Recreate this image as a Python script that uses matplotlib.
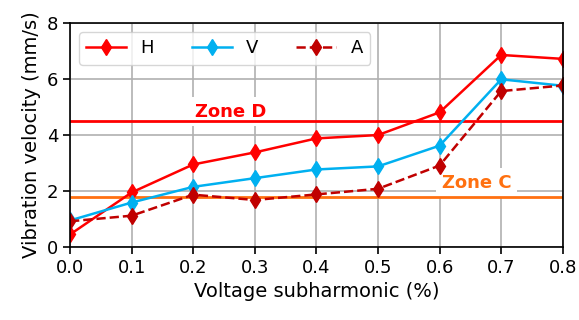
import numpy as np
import matplotlib.pyplot as plt

# data
x = [0.0, 0.1, 0.2, 0.3, 0.4, 0.5, 0.6, 0.7, 0.8]
h_vals = [0.45, 1.95, 2.95, 3.38, 3.88, 4.0, 4.81, 6.86, 6.72]
v_vals = [0.95, 1.59, 2.15, 2.46, 2.77, 2.88, 3.62, 5.99, 5.76]
a_vals = [0.92, 1.12, 1.87, 1.68, 1.88, 2.08, 2.91, 5.57, 5.77]
zone_d = 4.5
zone_c = 1.8

fig = plt.figure(figsize=(5.79, 3.2), dpi=100)
ax = fig.add_axes([0.121, 0.228, 0.851, 0.7])

ax.grid(True, color="#b0b0b0", linewidth=1.2, zorder=0)
ax.set_axisbelow(True)

ax.axhline(zone_d, color="#ff0000", linewidth=2, zorder=3)
ax.axhline(zone_c, color="#ff7010", linewidth=2, zorder=3)

ax.plot(x, h_vals, color="#ff0000", marker="d", markersize=8, linewidth=1.8, label="H", zorder=4)
ax.plot(x, v_vals, color="#00b0f0", marker="d", markersize=8, linewidth=1.8, label="V", zorder=4)
ax.plot(x, a_vals, color="#c00000", marker="d", markersize=8, linewidth=1.8, linestyle="--", label="A", zorder=4)

ax.text(0.26, 4.83, "Zone D", color="#ff0000", fontsize=13, fontweight="bold",
        ha="center", va="center", zorder=2.5,
        bbox=dict(facecolor="white", edgecolor="none", pad=4))
ax.text(0.66, 2.3, "Zone C", color="#ff7010", fontsize=13, fontweight="bold",
        ha="center", va="center", zorder=2.5,
        bbox=dict(facecolor="white", edgecolor="none", pad=4))

ax.set_xlim(0, 0.8)
ax.set_ylim(0, 8)
ax.set_xticks(x)
ax.set_yticks([0, 2, 4, 6, 8])
ax.tick_params(labelsize=13, width=1.2, length=5)
for s in ax.spines.values():
    s.set_linewidth(1.2)
    s.set_zorder(5)

ax.set_xlabel("Voltage subharmonic (%)", fontsize=14)
ax.set_ylabel("Vibration velocity (mm/s)", fontsize=14)

ax.legend(loc="upper left", ncol=3, fontsize=13, framealpha=0.8,
          handlelength=2.2, handletextpad=0.8, columnspacing=2.1, borderpad=0.4)

fig.savefig("out.png", dpi=100)
